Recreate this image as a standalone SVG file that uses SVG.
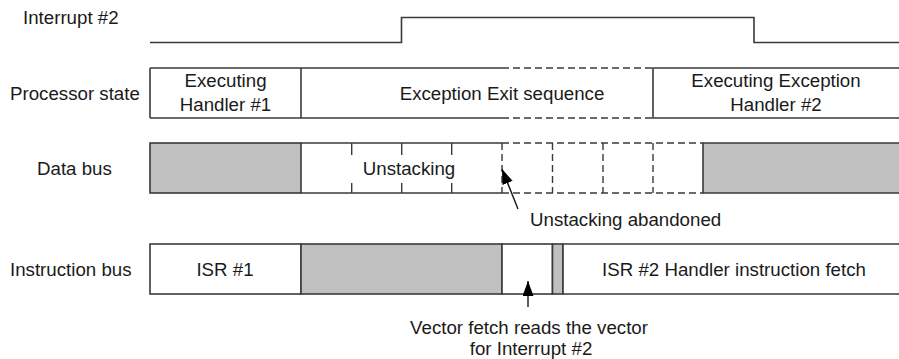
<svg xmlns="http://www.w3.org/2000/svg" width="899" height="359" viewBox="0 0 899 359">
  <style>
    text { font-family: "Liberation Sans", Arial, sans-serif; font-size: 18.7px; fill: #1a1a1a; }
    .c { text-anchor: middle; }
    .ln { stroke: #3a3a3a; stroke-width: 1.6; fill: none; }
    .dash { stroke: #3a3a3a; stroke-width: 1.4; fill: none; stroke-dasharray: 7 4; }
    .ldash { stroke: #3a3a3a; stroke-width: 1.4; fill: none; stroke-dasharray: 12 28; }
    .gray { fill: #c0c0c0; stroke: #3a3a3a; stroke-width: 1.6; }
    .white { fill: #ffffff; stroke: #3a3a3a; stroke-width: 1.6; }
    .arr { stroke: #1a1a1a; stroke-width: 1.4; fill: none; marker-end: url(#ah); }
  </style>
  <defs>
    <marker id="ah" markerUnits="userSpaceOnUse" viewBox="0 0 15 11" refX="15" refY="5.5" markerWidth="15" markerHeight="11" orient="auto">
      <path d="M0,0 L15,5.5 L0,11 z" fill="#000"/>
    </marker>
  </defs>
  <rect width="899" height="359" fill="#ffffff"/>

  <g id="interrupt">
    <text x="23" y="24">Interrupt #2</text>
    <polyline class="ln" points="150,42.5 401.5,42.5 401.5,17.5 754,17.5 754,42.5 899,42.5"/>
  </g>

  <g id="processor-state">
    <text x="10" y="100">Processor state</text>
    <line class="ln" x1="150" y1="68" x2="502" y2="68"/>
    <line class="ln" x1="150" y1="118" x2="502" y2="118"/>
    <line class="ln" x1="150" y1="68" x2="150" y2="118"/>
    <line class="ln" x1="301" y1="68" x2="301" y2="118"/>
    <line class="dash" x1="502" y1="68" x2="653" y2="68"/>
    <line class="dash" x1="502" y1="118" x2="653" y2="118"/>
    <polyline class="ln" points="899,68 653,68 653,118 899,118"/>
    <text class="c" x="225.5" y="87">Executing</text>
    <text class="c" x="225.5" y="111">Handler #1</text>
    <text class="c" x="502" y="100">Exception Exit sequence</text>
    <text class="c" x="776" y="87">Executing Exception</text>
    <text class="c" x="776" y="111">Handler #2</text>
  </g>

  <g id="data-bus">
    <text x="37" y="175">Data bus</text>
    <rect class="gray" x="150" y="143" width="151" height="50"/>
    <line class="ln" x1="301" y1="143" x2="502" y2="143"/>
    <line class="ln" x1="301" y1="193" x2="502" y2="193"/>
    <line class="ldash" x1="351.7" y1="143" x2="351.7" y2="193"/>
    <line class="ldash" x1="401.7" y1="143" x2="401.7" y2="193"/>
    <line class="ldash" x1="451.7" y1="143" x2="451.7" y2="193"/>
    <line class="dash" x1="502" y1="143" x2="703" y2="143"/>
    <line class="dash" x1="502" y1="193" x2="703" y2="193"/>
    <line class="dash" x1="502" y1="143" x2="502" y2="193"/>
    <line class="dash" x1="552.5" y1="143" x2="552.5" y2="193"/>
    <line class="dash" x1="603" y1="143" x2="603" y2="193"/>
    <line class="dash" x1="653" y1="143" x2="653" y2="193"/>
    <path class="gray" d="M900,143 L703,143 L703,193 L900,193"/>
    <text class="c" x="409" y="175">Unstacking</text>
  </g>

  <g id="instruction-bus">
    <text x="10" y="276">Instruction bus</text>
    <rect class="white" x="150" y="244" width="151" height="50"/>
    <rect class="gray" x="301" y="244" width="201" height="50"/>
    <rect class="white" x="502" y="244" width="50.5" height="50"/>
    <rect class="gray" x="552.5" y="244" width="10.5" height="50"/>
    <path class="white" d="M900,244 L563,244 L563,294 L900,294"/>
    <text class="c" x="225" y="276">ISR #1</text>
    <text class="c" x="734" y="276">ISR #2 Handler instruction fetch</text>
  </g>

  <g id="connectors">
    <line class="arr" x1="518" y1="209" x2="502" y2="169"/>
    <line class="arr" x1="528" y1="307" x2="528" y2="281"/>
  </g>

  <g id="annotations">
    <text x="530" y="226">Unstacking abandoned</text>
    <text class="c" x="529" y="334">Vector fetch reads the vector</text>
    <text class="c" x="531" y="355">for Interrupt #2</text>
  </g>
</svg>
